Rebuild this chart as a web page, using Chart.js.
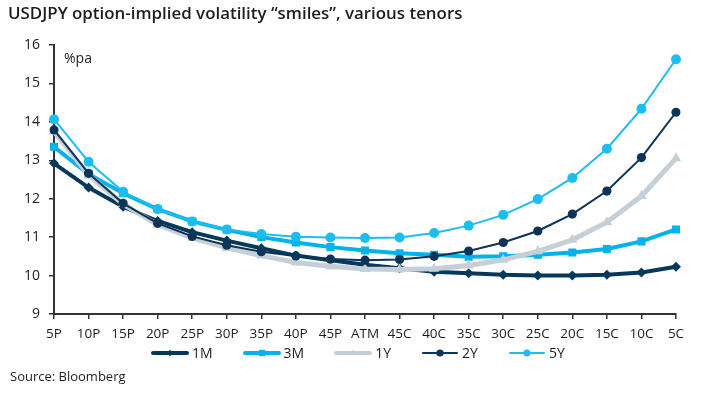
<!DOCTYPE html>
<html>
<head>
<meta charset="utf-8">
<title>USDJPY option-implied volatility smiles</title>
<script src="https://cdn.jsdelivr.net/npm/chart.js@4.4.1/dist/chart.umd.min.js"></script>
<style>
    html, body { margin: 0; padding: 0; background: #fff; }
    body { width: 727px; height: 394px; position: relative; overflow: hidden;
           font-family: 'Open Sans', 'Noto Sans', sans-serif; color: #1d1d1b; }
    #chartWrap { position: absolute; left: 0; top: 0; width: 727px; height: 394px; }
    #title { position: absolute; left: 8px; top: 1px; font-size: 16.9px; font-weight: 600; white-space: nowrap; }
    #unit { position: absolute; left: 64px; top: 48px; font-size: 14px; }
    #source { position: absolute; left: 10px; top: 367px; font-size: 13px; }
    #legend { position: absolute; left: 151px; top: 343px; display: flex; gap: 30px; font-size: 14px; }
    #legend .item { display: flex; align-items: center; gap: 3px; white-space: nowrap; }
    #legend canvas { display: block; }
</style>
</head>
<body>
<div id="chartWrap"><canvas id="smiles" width="727" height="394"></canvas></div>
<div id="title">USDJPY option-implied volatility “smiles”, various tenors</div>
<div id="unit">%pa</div>
<div id="legend"></div>
<div id="source">Source: Bloomberg</div>

<script>
'use strict';

// strikes, from 5-delta puts through ATM to 5-delta calls
const strikes = ['5P', '10P', '15P', '20P', '25P', '30P', '35P', '40P', '45P', 'ATM',
                 '45C', '40C', '35C', '30C', '25C', '20C', '15C', '10C', '5C'];

// implied vol, %pa
const vol1M = [12.92, 12.29, 11.79, 11.42, 11.13, 10.91, 10.71, 10.52, 10.40, 10.28,
               10.19, 10.10, 10.06, 10.02, 10.00, 10.00, 10.02, 10.08, 10.23];
const vol3M = [13.35, 12.64, 12.14, 11.73, 11.41, 11.19, 11.00, 10.86, 10.74, 10.65,
               10.58, 10.54, 10.49, 10.50, 10.54, 10.60, 10.69, 10.89, 11.20];
const vol1Y = [13.75, 12.62, 11.86, 11.32, 10.98, 10.72, 10.52, 10.34, 10.24, 10.17,
               10.16, 10.18, 10.26, 10.41, 10.63, 10.93, 11.39, 12.07, 13.05];
const vol2Y = [13.79, 12.66, 11.88, 11.36, 11.02, 10.79, 10.62, 10.51, 10.43, 10.40,
               10.42, 10.50, 10.64, 10.86, 11.16, 11.60, 12.20, 13.07, 14.25];
const vol5Y = [14.07, 12.96, 12.18, 11.73, 11.41, 11.20, 11.08, 11.01, 10.99, 10.98,
               10.99, 11.11, 11.30, 11.58, 11.99, 12.54, 13.30, 14.34, 15.63];

const tenors = ['1M', '3M', '1Y', '2Y', '5Y'];
const yMin = 9, yMax = 16, yStep = 1;

const INK = '#1d1d1b';
const AXIS = '#333333';

// per-tenor look: colour, line width, marker
const looks = [
    { color: '#06385c', width: 4,   point: 'rectRot',  radius: 5,   legendRadius: 3.2 },
    { color: '#00b3ea', width: 4,   point: 'rect',     radius: 5.7, legendRadius: 4.2 },
    { color: '#c4cfd7', width: 5,   point: 'triangle', radius: 6,   legendRadius: 3.5 },
    { color: '#0b3456', width: 2,   point: 'circle',   radius: 4.6, legendRadius: 3.6 },
    { color: '#1ebdf0', width: 2,   point: 'circle',   radius: 5,   legendRadius: 3.6 }
];
const series = [vol1M, vol3M, vol1Y, vol2Y, vol5Y];

const datasets = series.map(function (values, i) {
    const lk = looks[i];
    return {
        label: tenors[i],
        data: values,
        borderColor: lk.color,
        backgroundColor: lk.color,
        borderWidth: lk.width,
        pointStyle: lk.point,
        pointRadius: lk.radius,
        pointBorderWidth: 0,
        pointBackgroundColor: lk.color,
        tension: 0,
        order: series.length - 1 - i   // later tenors drawn on top
    };
});

// small line+marker swatch for the HTML legend
function swatch(lk) {
    const c = document.createElement('canvas');
    c.width = 38; c.height = 12;
    const ctx = c.getContext('2d');
    const cx = 19, cy = 6, r = lk.legendRadius;
    ctx.strokeStyle = lk.color;
    ctx.fillStyle = lk.color;
    ctx.lineWidth = Math.min(lk.width, 4);
    ctx.lineCap = 'round';
    ctx.beginPath(); ctx.moveTo(2, cy); ctx.lineTo(36, cy); ctx.stroke();
    ctx.beginPath();
    if (lk.point === 'circle') {
        ctx.arc(cx, cy, r, 0, Math.PI * 2);
    } else if (lk.point === 'rect') {
        ctx.rect(cx - r * 0.75, cy - r * 0.75, r * 1.5, r * 1.5);
    } else if (lk.point === 'rectRot') {
        ctx.moveTo(cx, cy - r); ctx.lineTo(cx + r, cy); ctx.lineTo(cx, cy + r); ctx.lineTo(cx - r, cy);
    } else {
        ctx.moveTo(cx, cy - r); ctx.lineTo(cx + r, cy + r * 0.6); ctx.lineTo(cx - r, cy + r * 0.6);
    }
    ctx.closePath(); ctx.fill();
    return c;
}

const legendBox = document.getElementById('legend');
tenors.forEach(function (name, i) {
    const item = document.createElement('div');
    item.className = 'item';
    item.appendChild(swatch(looks[i]));
    const txt = document.createElement('span');
    txt.textContent = name;
    item.appendChild(txt);
    legendBox.appendChild(item);
});

new Chart(document.getElementById('smiles'), {
    type: 'line',
    data: { labels: strikes, datasets: datasets },
    options: {
        responsive: false,
        animation: false,
        layout: { padding: { top: 45, right: 51, bottom: 56, left: 0 } },
        plugins: {
            legend: { display: false },
            tooltip: { enabled: false }
        },
        scales: {
            x: {
                offset: false,
                border: { color: AXIS, width: 2 },
                grid: { drawOnChartArea: false, drawTicks: true, tickLength: 5, color: AXIS, lineWidth: 1.5 },
                ticks: {
                    color: INK, padding: 7, maxRotation: 0, autoSkip: false,
                    font: { family: "'Open Sans', 'Noto Sans', sans-serif", size: 13.5 }
                },
                afterFit: function (scale) { scale.height = 24; }
            },
            y: {
                min: yMin, max: yMax,
                border: { color: AXIS, width: 2 },
                grid: { drawOnChartArea: false, drawTicks: true, tickLength: 5, color: AXIS, lineWidth: 1.5 },
                ticks: {
                    stepSize: yStep, color: INK, padding: 9,
                    font: { family: "'Open Sans', 'Noto Sans', sans-serif", size: 14 }
                },
                afterFit: function (scale) { scale.width = 54; }
            }
        }
    }
});
</script>
</body>
</html>
